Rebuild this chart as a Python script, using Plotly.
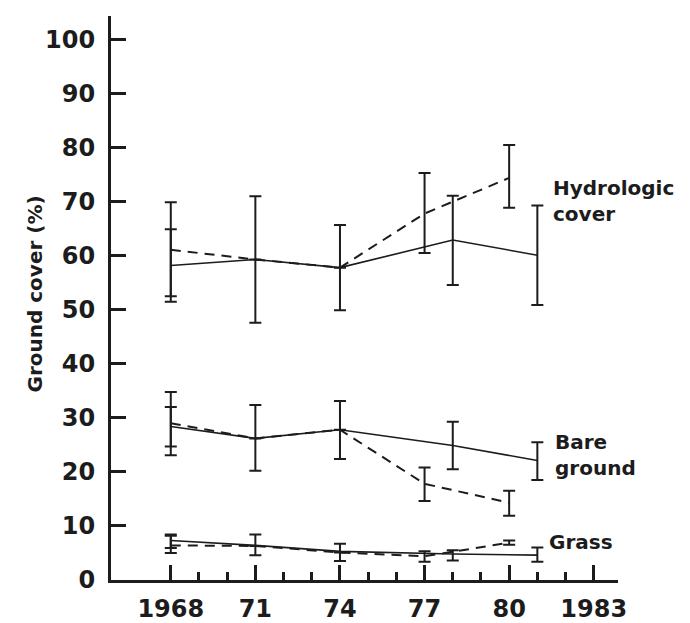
import plotly.graph_objects as go

# ---- data ----
x_ticks = [1968, 1971, 1974, 1977, 1980, 1983]
x_ticktext = ["1968", "71", "74", "77", "80", "1983"]
y_ticks = [0, 10, 20, 30, 40, 50, 60, 70, 80, 90, 100]

# solid series (years, mean, upper, lower)
solid_years = [1968, 1971, 1974, 1978, 1981]
hydro_solid = [58.2, 59.3, 57.8, 62.9, 60.1]
hydro_solid_hi = [69.9, 71.0, 65.7, 71.1, 69.3]
hydro_solid_lo = [51.5, 47.6, 49.9, 54.6, 50.9]

bare_solid = [28.4, 26.2, 27.8, 24.9, 22.1]
bare_solid_hi = [34.8, 32.4, 33.1, 29.3, 25.5]
bare_solid_lo = [23.1, 20.2, 22.4, 20.5, 18.5]

grass_solid = [7.3, 6.4, 5.3, 4.8, 4.6]
grass_solid_hi = [8.4, 8.4, 6.7, 5.5, 6.0]
grass_solid_lo = [5.0, 4.6, 3.5, 3.6, 3.4]

# dashed series (years, mean, upper, lower); None = no separate error bar
dash_years = [1968, 1971, 1974, 1977, 1980]
hydro_dash = [61.1, 59.3, 57.8, 67.8, 74.4]
hydro_dash_hi = [64.9, None, None, 75.3, 80.5]
hydro_dash_lo = [52.5, None, None, 60.5, 68.9]

bare_dash = [29.0, 26.2, 27.8, 17.8, 14.3]
bare_dash_hi = [32.0, None, None, 20.8, 16.5]
bare_dash_lo = [24.7, None, None, 14.6, 11.9]

grass_dash = [6.4, 6.3, 5.1, 4.4, 6.9]
grass_dash_hi = [8.2, None, None, 5.3, 7.3]
grass_dash_lo = [5.9, None, None, 3.4, 6.5]

series_labels = ["Hydrologic<br>cover", "Bare<br>ground", "Grass"]

INK = "#1c1c1c"
FONT = "DejaVu Sans"


def err(vals, hi, lo):
    up = [None if h is None else h - v for v, h in zip(vals, hi)]
    dn = [None if l is None else v - l for v, l in zip(vals, lo)]
    return dict(type="data", symmetric=False, array=up, arrayminus=dn,
                color=INK, thickness=2, width=6)


fig = go.Figure()
for vals, hi, lo in [(hydro_solid, hydro_solid_hi, hydro_solid_lo),
                     (bare_solid, bare_solid_hi, bare_solid_lo),
                     (grass_solid, grass_solid_hi, grass_solid_lo)]:
    fig.add_trace(go.Scatter(x=solid_years, y=vals, mode="lines",
                             line=dict(color=INK, width=1.6),
                             error_y=err(vals, hi, lo), showlegend=False,
                             hoverinfo="x+y"))
for vals, hi, lo in [(hydro_dash, hydro_dash_hi, hydro_dash_lo),
                     (bare_dash, bare_dash_hi, bare_dash_lo),
                     (grass_dash, grass_dash_hi, grass_dash_lo)]:
    fig.add_trace(go.Scatter(x=dash_years, y=vals, mode="lines",
                             line=dict(color=INK, width=2, dash="10px,7px"),
                             error_y=err(vals, hi, lo), showlegend=False,
                             hoverinfo="x+y"))

label_pos = [(1981.48, 70.2), (1981.55, 23.1), (1981.35, 7.1)]
for text, (xx, yy) in zip(series_labels, label_pos):
    fig.add_annotation(x=xx, y=yy, text=text, showarrow=False,
                       xanchor="left", yanchor="middle", align="left",
                       font=dict(family=FONT, size=20, color=INK, weight="bold"))

fig.add_annotation(xref="paper", yref="y", x=-0.15, y=53.0,
                   text="Ground cover (%)", textangle=-90, showarrow=False,
                   xanchor="center", yanchor="middle",
                   font=dict(family=FONT, size=20, color=INK, weight="bold"))

fig.update_layout(
    width=690, height=623,
    margin=dict(l=103, r=80, t=8, b=41),
    paper_bgcolor="white", plot_bgcolor="white",
    xaxis=dict(range=[1965.88, 1983.86], tickvals=x_ticks, ticktext=x_ticktext,
               ticks="inside", ticklen=15, tickwidth=2.5, tickcolor=INK,
               showline=True, linewidth=3, linecolor=INK,
               showgrid=False, zeroline=False,
               ticklabelstandoff=5,
               minor=dict(tickvals=list(range(x_ticks[0], x_ticks[-1] + 1)),
                          ticks="inside", ticklen=8, tickwidth=2.5,
                          tickcolor=INK, showgrid=False),
               tickfont=dict(family=FONT, size=24, color=INK, weight="bold")),
    yaxis=dict(range=[0, 104.36], tickvals=y_ticks,
               ticks="inside", ticklen=15, tickwidth=2.5, tickcolor=INK,
               showline=True, linewidth=3, linecolor=INK,
               showgrid=False, zeroline=False,
               ticklabelstandoff=8,
               tickfont=dict(family=FONT, size=24, color=INK, weight="bold")),
)

fig.write_html("out.html")
